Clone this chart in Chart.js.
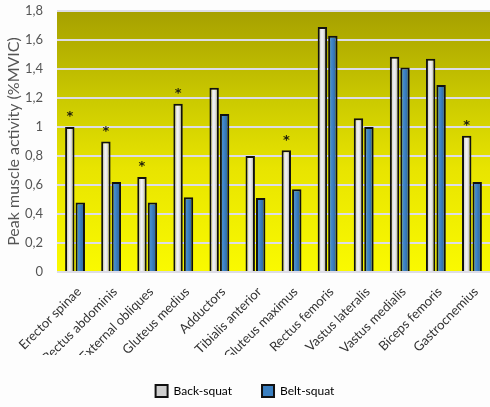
<!DOCTYPE html>
<html>
<head>
<meta charset="utf-8">
<script src="https://cdn.jsdelivr.net/npm/chart.js@4.4.0/dist/chart.umd.min.js"></script>
<style>
html,body{margin:0;padding:0;background:#fdfdfd;}
#wrap{width:490px;height:407px;position:relative;}
</style>
</head>
<body>
<div id="wrap"><canvas id="c"></canvas></div>
<script>
const categories = ["Erector spinae","Rectus abdominis","External obliques","Gluteus medius","Adductors","Tibialis anterior","Gluteus maximus","Rectus femoris","Vastus lateralis","Vastus medialis","Biceps femoris","Gastrocnemius"];
const backSquat = [1.00, 0.90, 0.655, 1.16, 1.27, 0.80, 0.84, 1.69, 1.06, 1.485, 1.47, 0.94];
const beltSquat = [0.48, 0.62, 0.48, 0.515, 1.09, 0.51, 0.57, 1.63, 1.00, 1.41, 1.29, 0.62];
const significant = [true, true, true, true, false, false, true, false, false, false, false, true];
const seriesNames = ["Back-squat", "Belt-squat"];
const yTicks = [0, 0.2, 0.4, 0.6, 0.8, 1, 1.2, 1.4, 1.6, 1.8];

const FONT = "Lato, 'DejaVu Sans', sans-serif";
const CAT_PCT = 0.58, BAR_PCT = 0.9;

function barGradient(ctx, dsIndex, stops) {
  const chart = ctx.chart;
  const xs = chart.scales.x;
  if (!xs || !chart.chartArea) return stops[1][1];
  const center = xs.getPixelForValue(ctx.dataIndex);
  const catW = (xs.right - xs.left) / categories.length;
  const groupW = catW * CAT_PCT;
  const slot = groupW / 2;
  const bc = center - groupW / 2 + slot * (dsIndex + 0.5);
  const w = slot * BAR_PCT;
  const g = chart.ctx.createLinearGradient(bc - w / 2, 0, bc + w / 2, 0);
  stops.forEach(s => g.addColorStop(s[0], s[1]));
  return g;
}
const grayStops = [[0,'#b4b4b4'],[0.45,'#f2f2f2'],[0.6,'#e6e6e6'],[1,'#8c8c8c']];
const blueStops = [[0,'#4f95d6'],[0.4,'#3f86c8'],[1,'#275a92']];

const bgPlugin = {
  id: 'bg',
  beforeDraw(chart) {
    const {ctx, chartArea: a} = chart;
    ctx.save();
    ctx.fillStyle = '#fdfdfd';
    ctx.fillRect(0, 0, chart.width, chart.height);
    const g = ctx.createLinearGradient(0, a.top, 0, a.bottom);
    g.addColorStop(0, '#a6a000');
    g.addColorStop(0.35, '#cccb00');
    g.addColorStop(0.6, '#e8e400');
    g.addColorStop(1, '#fafa00');
    ctx.fillStyle = g;
    ctx.fillRect(a.left, a.top, a.right - a.left, a.bottom - a.top);
    ctx.restore();
  }
};

const starPlugin = {
  id: 'stars',
  afterDatasetsDraw(chart) {
    const meta = chart.getDatasetMeta(0);
    const ctx = chart.ctx;
    ctx.save();
    ctx.fillStyle = '#22220c';
    ctx.font = "bold 13px 'DejaVu Sans',sans-serif";
    ctx.textAlign = 'center';
    ctx.textBaseline = 'middle';
    meta.data.forEach((el, i) => {
      if (significant[i]) ctx.fillText('*', el.x, el.y - 10);
    });
    ctx.restore();
  }
};

new Chart(document.getElementById('c'), {
  type: 'bar',
  data: {
    labels: categories,
    datasets: [
      {
        label: seriesNames[0],
        data: backSquat,
        backgroundColor: ctx => barGradient(ctx, 0, grayStops),
        borderColor: '#111',
        borderWidth: 2,
        categoryPercentage: CAT_PCT,
        barPercentage: BAR_PCT
      },
      {
        label: seriesNames[1],
        data: beltSquat,
        backgroundColor: ctx => barGradient(ctx, 1, blueStops),
        borderColor: '#111',
        borderWidth: 2,
        categoryPercentage: CAT_PCT,
        barPercentage: BAR_PCT
      }
    ]
  },
  options: {
    responsive: true,
    maintainAspectRatio: false,
    animation: false,
    devicePixelRatio: 1,
    layout: { padding: { top: 11, right: 0, left: 0, bottom: 0 } },
    plugins: {
      tooltip: { enabled: false },
      legend: {
        position: 'bottom',
        labels: {
          font: { family: FONT, size: 12 },
          color: '#222',
          boxWidth: 12,
          boxHeight: 12,
          padding: 30,
          generateLabels: (chart) => [
            { text: seriesNames[0], fillStyle: '#cfcfcf', strokeStyle: '#111', lineWidth: 2, datasetIndex: 0 },
            { text: seriesNames[1], fillStyle: '#3a7fc0', strokeStyle: '#111', lineWidth: 2, datasetIndex: 1 }
          ]
        }
      }
    },
    scales: {
      x: {
        grid: { display: false },
        border: { display: false },
        afterFit: (axis) => { axis.height = 83; axis.paddingLeft = 0; axis.paddingRight = 0; },
        ticks: {
          font: { family: FONT, size: 13 },
          color: '#333',
          maxRotation: 45,
          minRotation: 45,
          padding: 4,
          labelOffset: 4
        }
      },
      y: {
        min: 0,
        max: 1.8,
        afterBuildTicks: (axis) => { axis.ticks = yTicks.map(v => ({ value: v })); },
        afterFit: (axis) => { axis.width = 57; axis.paddingTop = 0; axis.paddingBottom = 0; },
        grid: { color: '#dcdce6', lineWidth: 2, drawTicks: false },
        border: { display: false },
        ticks: {
          font: { family: FONT, size: 13 },
          color: '#555',
          padding: 14,
          callback: (v) => String(Number(v.toFixed(1))).replace('.', ',')
        },
        title: {
          display: true,
          text: 'Peak muscle activity (%MVIC)',
          font: { family: FONT, size: 16 },
          color: '#555',
          padding: { top: 4, bottom: 2 }
        }
      }
    }
  },
  plugins: [bgPlugin, starPlugin]
});
</script>
</body>
</html>
